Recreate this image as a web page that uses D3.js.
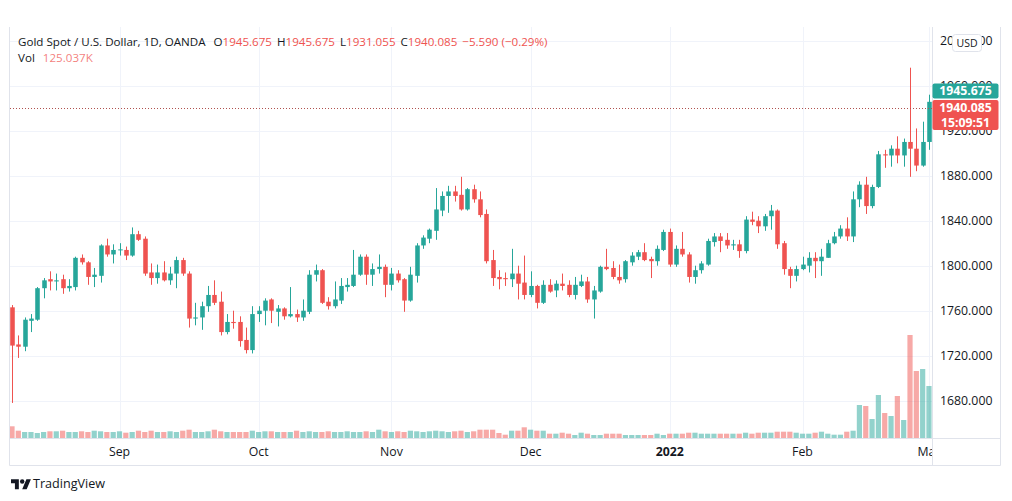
<!DOCTYPE html>
<html>
<head>
<meta charset="utf-8">
<script src="https://cdn.jsdelivr.net/npm/d3@7"></script>
<style>
  body { margin: 0; background: #fff; }
  svg { display: block; font-family: "Open Sans", sans-serif; }
</style>
</head>
<body>
<script>
// trading days shown (OANDA daily bars, weekends and one holiday skipped)
const firstDay = "2021-08-09";
const lastDay = "2022-03-02";
const closedDays = ["2021-12-24"];

const open = [
  1763, 1730, 1728, 1751, 1752, 1780, 1788, 1786, 1788, 1780,
  1781, 1807, 1803, 1790, 1791, 1818, 1810, 1814, 1814, 1809,
  1828, 1824, 1794, 1789, 1794, 1787, 1793, 1805, 1793, 1753,
  1754, 1764, 1774, 1768, 1741, 1750, 1750, 1734, 1725, 1757,
  1760, 1770, 1759, 1762, 1755, 1757, 1754, 1759, 1792, 1796,
  1768, 1764, 1769, 1781, 1782, 1792, 1808, 1792, 1797, 1799,
  1783, 1793, 1788, 1769, 1791, 1818, 1824, 1831, 1849, 1862,
  1866, 1863, 1850, 1868, 1859, 1846, 1805, 1790, 1789, 1788,
  1793, 1785, 1774, 1782, 1767, 1783, 1778, 1784, 1783, 1774,
  1782, 1786, 1770, 1777, 1799, 1798, 1790, 1788, 1803, 1808,
  1812, 1806, 1804, 1814, 1830, 1801, 1815, 1810, 1790, 1796,
  1801, 1821, 1826, 1823, 1818, 1819, 1813, 1841, 1840, 1835,
  1844, 1849, 1820, 1797, 1791, 1797, 1800, 1807, 1804, 1807,
  1820, 1826, 1833, 1826, 1859, 1872, 1853, 1870, 1899, 1898,
  1904, 1898, 1910, 1904, 1889, 1910, 1945.675
];
const high = [
  1765, 1738, 1754, 1757, 1781, 1789, 1795, 1793, 1792, 1788,
  1808, 1810, 1804, 1798, 1819, 1824, 1819, 1820, 1817, 1834,
  1831, 1826, 1802, 1801, 1804, 1799, 1808, 1807, 1795, 1767,
  1768, 1782, 1787, 1777, 1757, 1760, 1755, 1745, 1764, 1764,
  1771, 1771, 1765, 1763, 1781, 1761, 1770, 1796, 1801, 1797,
  1772, 1786, 1789, 1789, 1814, 1810, 1810, 1802, 1810, 1801,
  1798, 1796, 1789, 1799, 1820, 1827, 1833, 1869, 1866, 1871,
  1871, 1879, 1869, 1872, 1866, 1850, 1814, 1796, 1794, 1815,
  1800, 1809, 1795, 1783, 1787, 1788, 1787, 1793, 1787, 1790,
  1792, 1790, 1782, 1800, 1815, 1804, 1801, 1805, 1812, 1814,
  1820, 1808, 1818, 1832, 1833, 1818, 1830, 1812, 1800, 1804,
  1824, 1829, 1829, 1829, 1823, 1823, 1844, 1848, 1844, 1846,
  1854, 1850, 1822, 1799, 1800, 1808, 1812, 1812, 1815, 1823,
  1830, 1836, 1843, 1866, 1875, 1879, 1872, 1902, 1903, 1907,
  1915, 1913, 1976, 1922, 1928, 1952, 1945.675
];
const low = [
  1678, 1718, 1724, 1741, 1751, 1771, 1778, 1778, 1775, 1777,
  1778, 1801, 1783, 1781, 1785, 1808, 1802, 1809, 1805, 1808,
  1822, 1791, 1783, 1784, 1786, 1783, 1780, 1791, 1745, 1747,
  1743, 1759, 1765, 1738, 1739, 1744, 1728, 1722, 1722, 1750,
  1747, 1749, 1746, 1752, 1754, 1750, 1751, 1757, 1786, 1766,
  1761, 1762, 1766, 1777, 1781, 1791, 1783, 1782, 1793, 1772,
  1778, 1785, 1759, 1768, 1785, 1815, 1820, 1823, 1844, 1847,
  1857, 1849, 1849, 1856, 1843, 1802, 1782, 1779, 1782, 1781,
  1770, 1770, 1772, 1762, 1766, 1776, 1772, 1778, 1772, 1770,
  1781, 1767, 1753, 1776, 1796, 1788, 1784, 1785, 1800, 1805,
  1804, 1789, 1800, 1813, 1799, 1799, 1808, 1785, 1784, 1793,
  1800, 1817, 1812, 1815, 1814, 1807, 1811, 1836, 1829, 1831,
  1832, 1815, 1792, 1780, 1786, 1796, 1794, 1789, 1791, 1807,
  1819, 1824, 1822, 1821, 1852, 1846, 1851, 1869, 1887, 1888,
  1891, 1888, 1879, 1884, 1888, 1903, 1931.055
];
const close = [
  1729, 1728, 1752, 1753, 1780, 1787, 1786, 1787, 1780, 1782,
  1807, 1803, 1790, 1792, 1818, 1810, 1814, 1814.5, 1809, 1828,
  1823, 1793, 1789, 1794, 1787, 1793, 1805, 1793, 1753, 1754,
  1764, 1774, 1767, 1741, 1750, 1749, 1733, 1725, 1757, 1760,
  1769, 1760, 1762, 1755, 1757, 1754, 1760, 1792, 1796, 1767,
  1764, 1770, 1782, 1783, 1792, 1808, 1792, 1797, 1799, 1783,
  1793, 1787, 1769, 1792, 1818, 1825, 1832, 1850, 1862, 1866,
  1862, 1850, 1868, 1859, 1845, 1804, 1789, 1788, 1788, 1793,
  1784, 1774, 1782, 1767, 1783, 1777, 1784, 1782, 1774, 1783,
  1786, 1770, 1778, 1799, 1797, 1790, 1787, 1804, 1809, 1812,
  1805, 1804, 1815, 1830, 1801, 1815, 1810, 1790, 1796, 1802,
  1822, 1826, 1822, 1818, 1819, 1813, 1841, 1839, 1835, 1844,
  1849, 1819, 1797, 1791, 1797, 1801, 1807, 1804, 1808, 1820,
  1826, 1833, 1826, 1859, 1872, 1853, 1870, 1899, 1898, 1904,
  1898, 1910, 1904, 1889, 1910, 1945.675, 1940.085
];
// volume in thousands
const volume = [
  234, 146, 120, 120, 100, 120, 134, 134, 146, 120,
  120, 134, 120, 146, 134, 120, 120, 134, 106, 120,
  146, 120, 146, 120, 120, 134, 120, 146, 166, 120,
  120, 134, 166, 134, 120, 120, 120, 120, 146, 120,
  134, 134, 120, 120, 120, 146, 120, 134, 120, 120,
  134, 120, 120, 134, 120, 120, 134, 120, 166, 134,
  120, 134, 120, 146, 134, 120, 134, 146, 134, 120,
  134, 146, 120, 134, 166, 166, 166, 100, 66, 146,
  146, 214, 166, 146, 146, 86, 86, 106, 86, 60,
  106, 86, 60, 60, 86, 86, 86, 60, 60, 60,
  60, 60, 86, 60, 86, 86, 86, 106, 106, 86,
  86, 86, 86, 86, 86, 86, 106, 86, 106, 106,
  106, 126, 126, 126, 106, 86, 86, 106, 126, 86,
  66, 66, 126, 146, 660, 640, 380, 860, 500, 440,
  840, 360, 2060, 1340, 1380, 1040, 125.037
];
const priceTicks = [1680, 1720, 1760, 1800, 1840, 1880, 1920, 1960, 2000];
const monthTicks = [
  { date: "2021-09-01", label: "Sep" },
  { date: "2021-10-01", label: "Oct" },
  { date: "2021-11-01", label: "Nov" },
  { date: "2021-12-01", label: "Dec" },
  { date: "2022-01-03", label: "2022", year: true },
  { date: "2022-02-01", label: "Feb" },
  { date: "2022-03-01", label: "Mar" },
];

const fmt = d3.utcFormat("%Y-%m-%d");
const dates = d3
  .utcDay.range(new Date(firstDay), d3.utcDay.offset(new Date(lastDay), 1))
  .filter((d) => d.getUTCDay() % 6 !== 0)
  .map(fmt)
  .filter((d) => !closedDays.includes(d));

const candles = dates.map((date, i) => ({
  date,
  o: open[i],
  h: high[i],
  l: low[i],
  c: close[i],
  v: volume[i],
}));

const width = 1012;
const height = 501;
const pane = { left: 10, right: 932, top: 27, bottom: 438 };
const up = "#26a69a";
const down = "#ef5350";
const textColor = "#131722";
const gridColor = "#f0f3fa";
const borderColor = "#e0e3eb";

const step = 6.324;
const x = d3
  .scaleBand()
  .domain(d3.range(candles.length))
  .range([12 - step / 2, 12 - step / 2 + step * candles.length])
  .paddingInner(0.28)
  .paddingOuter(0.14);
const cx = (i) => x(i) + x.bandwidth() / 2;

const y = d3.scaleLinear().domain([1680, 1880]).range([400.7, 175.7]);
const yVol = d3
  .scaleLinear()
  .domain([0, d3.max(volume)])
  .range([pane.bottom, pane.bottom - 103]);

const svg = d3
  .select("body")
  .append("svg")
  .attr("width", width)
  .attr("height", height);

svg
  .append("defs")
  .append("clipPath")
  .attr("id", "pane")
  .append("rect")
  .attr("x", pane.left)
  .attr("y", pane.top)
  .attr("width", pane.right - pane.left)
  .attr("height", pane.bottom - pane.top);

// grid
const grid = svg.append("g").attr("clip-path", "url(#pane)");
grid
  .selectAll("line.h")
  .data(priceTicks)
  .enter()
  .append("line")
  .attr("x1", pane.left)
  .attr("x2", pane.right)
  .attr("y1", (d) => Math.round(y(d)) + 0.5)
  .attr("y2", (d) => Math.round(y(d)) + 0.5)
  .attr("stroke", gridColor);

const tickIndex = (d) => dates.indexOf(d.date);
grid
  .selectAll("line.v")
  .data(monthTicks)
  .enter()
  .append("line")
  .attr("x1", (d) => Math.round(cx(tickIndex(d))) + 0.5)
  .attr("x2", (d) => Math.round(cx(tickIndex(d))) + 0.5)
  .attr("y1", pane.top)
  .attr("y2", pane.bottom)
  .attr("stroke", gridColor);

const plot = svg.append("g").attr("clip-path", "url(#pane)");

// volume
plot
  .append("g")
  .selectAll("rect")
  .data(candles)
  .enter()
  .append("rect")
  .attr("x", (_, i) => cx(i) - 2.6)
  .attr("width", 5.2)
  .attr("y", (d) => yVol(d.v))
  .attr("height", (d) => pane.bottom - yVol(d.v))
  .attr("fill", (d) => (d.c >= d.o ? up : down))
  .attr("fill-opacity", 0.5);

// candles
const candleGroups = plot
  .append("g")
  .selectAll("g")
  .data(candles)
  .enter()
  .append("g")
  .attr("fill", (d) => (d.c >= d.o ? up : down))
  .attr("stroke", (d) => (d.c >= d.o ? up : down));

candleGroups
  .append("line")
  .attr("x1", (_, i) => Math.round(cx(i)) + 0.5)
  .attr("x2", (_, i) => Math.round(cx(i)) + 0.5)
  .attr("y1", (d) => y(d.h))
  .attr("y2", (d) => y(d.l))
  .attr("stroke-width", 1);

candleGroups
  .append("rect")
  .attr("stroke", "none")
  .attr("x", (_, i) => Math.round(cx(i)) + 0.5 - x.bandwidth() / 2)
  .attr("width", x.bandwidth())
  .attr("y", (d) => y(Math.max(d.o, d.c)))
  .attr("height", (d) => Math.max(1, Math.abs(y(d.o) - y(d.c))));

// last price line
const last = candles[candles.length - 1];
plot
  .append("line")
  .attr("x1", pane.left)
  .attr("x2", pane.right)
  .attr("y1", Math.round(y(last.c)) + 0.5)
  .attr("y2", Math.round(y(last.c)) + 0.5)
  .attr("stroke", "#b0524f")
  .attr("stroke-width", 1)
  .attr("stroke-dasharray", "1 2");

// frame
const frame = svg
  .append("g")
  .attr("fill", "none")
  .attr("stroke", borderColor);
frame
  .append("path")
  .attr("d", `M${pane.left - 0.5} ${pane.top} V465.5 H1000.5 V${pane.top}`);
frame
  .append("line")
  .attr("x1", pane.right + 0.5)
  .attr("x2", pane.right + 0.5)
  .attr("y1", pane.top)
  .attr("y2", 465);
frame
  .append("line")
  .attr("x1", pane.left)
  .attr("x2", 1000)
  .attr("y1", pane.bottom + 0.5)
  .attr("y2", pane.bottom + 0.5);

// price axis
const priceAxis = svg.append("g");
priceAxis
  .selectAll("text")
  .data(priceTicks)
  .enter()
  .append("text")
  .attr("x", 940)
  .attr("y", (d) => y(d))
  .attr("dy", "0.35em")
  .attr("font-size", 12.3)
  .attr("fill", textColor)
  .text((d) => d3.format(".3f")(d));

// time axis
svg
  .append("defs")
  .append("clipPath")
  .attr("id", "timeaxis")
  .append("rect")
  .attr("x", pane.left)
  .attr("y", pane.bottom)
  .attr("width", pane.right - pane.left)
  .attr("height", 27);
svg
  .append("g")
  .attr("clip-path", "url(#timeaxis)")
  .selectAll("text")
  .data(monthTicks)
  .enter()
  .append("text")
  .attr("x", (d) => cx(tickIndex(d)))
  .attr("y", 456)
  .attr("text-anchor", "middle")
  .attr("font-size", 12.3)
  .attr("font-weight", (d) => (d.year ? "bold" : "normal"))
  .attr("fill", textColor)
  .text((d) => d.label);

// price labels on the axis
const labelW = 66;
const redTop = y(last.c) - 8;
const redLabel = svg.append("g");
redLabel
  .append("rect")
  .attr("x", pane.right + 0.5)
  .attr("y", redTop)
  .attr("width", labelW)
  .attr("height", 30)
  .attr("rx", 2)
  .attr("fill", down);
redLabel
  .selectAll("text")
  .data([d3.format(".3f")(last.c), "15:09:51"])
  .enter()
  .append("text")
  .attr("x", pane.right + 0.5 + labelW / 2)
  .attr("y", (_, i) => redTop + 7.5 + i * 15)
  .attr("dy", "0.35em")
  .attr("text-anchor", "middle")
  .attr("font-size", 12.3)
  .attr("font-weight", "bold")
  .attr("fill", "#fff")
  .text((d) => d);

const greenTop = redTop - 16.5;
svg
  .append("rect")
  .attr("x", pane.right + 0.5)
  .attr("y", greenTop)
  .attr("width", labelW)
  .attr("height", 15)
  .attr("rx", 2)
  .attr("fill", up);
svg
  .append("text")
  .attr("x", pane.right + 0.5 + labelW / 2)
  .attr("y", greenTop + 7.5)
  .attr("dy", "0.35em")
  .attr("text-anchor", "middle")
  .attr("font-size", 12.3)
  .attr("font-weight", "bold")
  .attr("fill", "#fff")
  .text(d3.format(".3f")(last.o));

// currency badge
svg
  .append("rect")
  .attr("x", 952.5)
  .attr("y", 34.5)
  .attr("width", 29)
  .attr("height", 17)
  .attr("rx", 3)
  .attr("fill", "#fff")
  .attr("stroke", borderColor);
svg
  .append("text")
  .attr("x", 967)
  .attr("y", 43)
  .attr("dy", "0.35em")
  .attr("text-anchor", "middle")
  .attr("font-size", 10.5)
  .attr("fill", textColor)
  .text("USD");

// legend
const chg = last.c - last.o;
const legendSize = 11.6;
const legend = svg
  .append("text")
  .attr("x", 18)
  .attr("y", 42)
  .attr("dy", "0.35em")
  .attr("font-size", legendSize)
  .attr("fill", textColor);
legend.append("tspan").text("Gold Spot / U.S. Dollar, 1D, OANDA");
[
  ["O", last.o],
  ["H", last.h],
  ["L", last.l],
  ["C", last.c],
].forEach(([k, v], i) => {
  legend
    .append("tspan")
    .attr("dx", i === 0 ? 8 : 5)
    .text(k);
  legend.append("tspan").attr("fill", down).text(d3.format(".3f")(v));
});
legend
  .append("tspan")
  .attr("dx", 5)
  .attr("fill", down)
  .text(
    `${d3.format(".3f")(chg)} (${d3.format(".2f")((chg / last.o) * 100)}%)`
  );

const volLegend = svg
  .append("text")
  .attr("x", 18)
  .attr("y", 58)
  .attr("dy", "0.35em")
  .attr("font-size", legendSize)
  .attr("fill", textColor);
volLegend.append("tspan").text("Vol");
volLegend
  .append("tspan")
  .attr("dx", 8)
  .attr("fill", down)
  .attr("fill-opacity", 0.75)
  .text(`${d3.format(".3f")(last.v)}K`);

// brand
const brand = svg
  .append("g")
  .attr("transform", "translate(11 477) scale(0.56)")
  .attr("fill", textColor);
brand
  .append("path")
  .attr("d", "M14 22H7V11H0V4h14v18zM28 22h-8l7.5-18h8L28 22z");
brand.append("circle").attr("cx", 20).attr("cy", 8).attr("r", 4);
svg
  .append("text")
  .attr("x", 33)
  .attr("y", 484)
  .attr("dy", "0.35em")
  .attr("font-size", 12.6)
  .attr("fill", textColor)
  .text("TradingView");
</script>
</body>
</html>
